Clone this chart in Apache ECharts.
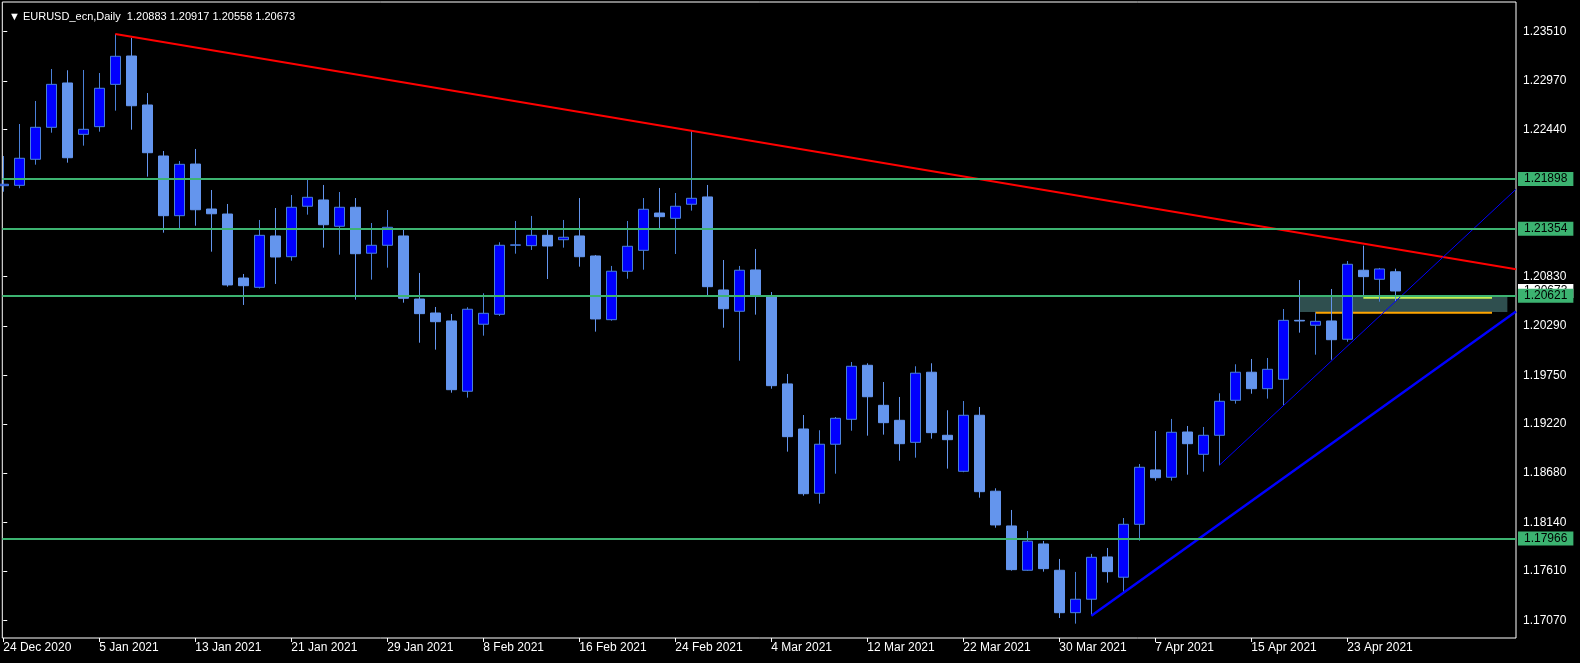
<!DOCTYPE html>
<html>
<head>
<meta charset="utf-8">
<script src="https://cdn.jsdelivr.net/npm/echarts@6/dist/echarts.min.js"></script>
<style>
html,body{margin:0;padding:0;background:#000;}
#chart{width:1580px;height:663px;}
</style>
</head>
<body>
<div id="chart"></div>
<script>
// ---- data ----
const symbol = 'EURUSD_ecn,Daily';
const opens  = [1.21825,1.21829,1.22114,1.22464,1.22949,1.22387,1.22471,1.22934,1.23244,1.22708,
  1.22150,1.21497,1.22062,1.21570,1.21515,1.20815,1.20713,1.21275,1.21048,1.21600,
  1.21669,1.21381,1.21589,1.21086,1.21173,1.21275,1.20585,1.20432,1.20345,1.19576,
  1.20309,1.20418,1.21173,1.21169,1.21282,1.21234,1.21275,1.21056,1.20359,1.20889,
  1.21118,1.21526,1.21468,1.21622,1.21702,1.20684,1.20451,1.20903,1.20622,1.19656,
  1.19163,1.18460,1.18996,1.19269,1.19860,1.19422,1.19258,1.19017,1.19784,1.19094,
  1.18700,1.19313,1.18482,1.18102,1.17617,1.17905,1.17617,1.17153,1.17300,1.17763,
  1.17541,1.18120,1.18715,1.18635,1.19130,1.18886,1.19094,1.19477,1.19784,1.19604,
  1.19707,1.20352,1.20298,1.20345,1.20145,1.20900,1.20801,1.20883];
const highs  = [1.22150,1.22500,1.22752,1.23102,1.23088,1.23091,1.23058,1.23485,1.23444,1.22839,
  1.22205,1.22095,1.22227,1.21778,1.21625,1.20859,1.21450,1.21581,1.21723,1.21887,
  1.21833,1.21756,1.21690,1.21417,1.21559,1.21348,1.20870,1.20498,1.20421,1.20495,
  1.20648,1.21206,1.21439,1.21494,1.21340,1.21450,1.21690,1.21067,1.20947,1.21439,
  1.21690,1.21800,1.21745,1.22427,1.21833,1.21012,1.20947,1.21133,1.20662,1.19765,
  1.19316,1.19149,1.19294,1.19896,1.19882,1.19677,1.19513,1.19849,1.19882,1.19368,
  1.19469,1.19404,1.18514,1.18277,1.18047,1.17938,1.17741,1.17599,1.17796,1.17861,
  1.18189,1.18780,1.19141,1.19273,1.19196,1.19185,1.19554,1.19871,1.19929,1.19940,
  1.20476,1.20793,1.20436,1.20695,1.21001,1.21169,1.20925,1.20917];
const lows   = [1.21759,1.21797,1.22055,1.22405,1.22077,1.22263,1.22416,1.22646,1.22438,1.21924,
  1.21311,1.21359,1.21387,1.21103,1.20720,1.20520,1.20700,1.20750,1.21004,1.21508,
  1.21147,1.21070,1.20578,1.20797,1.20928,1.20545,1.20107,1.20031,1.19560,1.19506,
  1.20184,1.20400,1.21081,1.21122,1.20804,1.21147,1.20939,1.20228,1.20348,1.20807,
  1.20906,1.21362,1.21078,1.21552,1.20629,1.20271,1.19910,1.20414,1.19604,1.18915,
  1.18433,1.18346,1.18674,1.19144,1.19090,1.19101,1.18816,1.18849,1.19057,1.18729,
  1.18690,1.18411,1.18083,1.17613,1.17610,1.17602,1.17095,1.17033,1.17125,1.17482,
  1.17372,1.17941,1.18598,1.18598,1.18663,1.18696,1.18766,1.19440,1.19549,1.19495,
  1.19422,1.20217,1.19976,1.19921,1.20118,1.20611,1.20556,1.20558];
const closes = [1.21841,1.22125,1.22464,1.22934,1.22131,1.22442,1.22891,1.23241,1.22700,1.22186,
  1.21497,1.22059,1.21562,1.21518,1.20739,1.20731,1.21282,1.21045,1.21589,1.21698,
  1.21398,1.21589,1.21081,1.21173,1.21370,1.20593,1.20425,1.20337,1.19593,1.20473,
  1.20429,1.21173,1.21178,1.21282,1.21165,1.21261,1.21048,1.20367,1.20889,1.21162,
  1.21567,1.21486,1.21600,1.21687,1.20720,1.20479,1.20900,1.20622,1.19637,1.19079,
  1.18455,1.18996,1.19280,1.19849,1.19516,1.19232,1.19002,1.19773,1.19123,1.19046,
  1.19313,1.18477,1.18113,1.17624,1.17935,1.17635,1.17153,1.17300,1.17759,1.17602,
  1.18120,1.18744,1.18630,1.19127,1.19002,1.19094,1.19466,1.19784,1.19604,1.19816,
  1.20352,1.20345,1.20341,1.20140,1.20965,1.20830,1.20914,1.20673];

const xTickIndex  = [0,6,12,18,24,30,36,42,48,54,60,66,72,78,84];
const xTickLabels = ['24 Dec 2020','5 Jan 2021','13 Jan 2021','21 Jan 2021','29 Jan 2021','8 Feb 2021',
  '16 Feb 2021','24 Feb 2021','4 Mar 2021','12 Mar 2021','22 Mar 2021','30 Mar 2021','7 Apr 2021',
  '15 Apr 2021','23 Apr 2021'];
const yTickValues = [1.17070,1.17610,1.18140,1.18680,1.19220,1.19750,1.20290,1.20830,1.22440,1.22970,1.23510];

const levels = [1.21898,1.21354,1.20621,1.17966];
const currentPrice = 1.20673;

const redTrend   = [[7,1.23485],[94.54,1.20910]];
const blueThick  = [[68,1.17120],[94.54,1.20448]];
const blueThin   = [[76,1.18766],[94.54,1.21786]];
const zoneBox    = [[81,1.20621],[94.0,1.20443]];
const orangeLine = [[82,1.20435],[93.04,1.20435]];
const limeLine   = [[85,1.20600],[93.04,1.20600]];

// ---- chart ----
const FONT = 'Liberation Sans';
const candles = opens.map((o,i)=>[i,o,closes[i],lows[i],highs[i]]);
const last = opens.length-1;
const header = '\u25BC ' + symbol + '  ' + opens[last].toFixed(5) + ' ' + highs[last].toFixed(5) + ' ' +
  lows[last].toFixed(5) + ' ' + closes[last].toFixed(5);
const labelMap = {};
xTickIndex.forEach((v,k)=>labelMap[v]=xTickLabels[k]);

const chart = echarts.init(document.getElementById('chart'), null, {renderer:'canvas'});
const levelLabel = (bg, fg) => ({
  show:true, position:'end', distance:2, backgroundColor:bg, color:fg, opacity:1,
  fontFamily:FONT, fontSize:12, padding:[1,6,0,6], lineHeight:13,
  formatter: p => Number(p.value).toFixed(5)
});

chart.setOption({
  animation:false,
  backgroundColor:'#000',
  title:{text:header, left:4, top:6, textStyle:{color:'#fff', fontSize:11, fontWeight:'normal', fontFamily:FONT}},
  grid:{left:2.3, right:64, top:2, bottom:25, show:true, borderColor:'#fff', borderWidth:1, backgroundColor:'#000'},
  xAxis:{
    type:'value', min:-0.06, max:94.54,
    splitLine:{show:false}, axisLine:{show:false},
    axisTick:{show:true, customValues:xTickIndex, length:4, lineStyle:{color:'#fff'}},
    axisLabel:{customValues:xTickIndex, formatter:v=>labelMap[v]||'', align:'left', margin:4,
      color:'#fff', fontSize:12, fontFamily:FONT}
  },
  yAxis:{
    type:'value', position:'right', min:1.16876, max:1.23835,
    splitLine:{show:false}, axisLine:{show:false},
    axisTick:{show:true, customValues:yTickValues, length:4, lineStyle:{color:'#fff'}},
    axisLabel:{customValues:yTickValues, formatter:v=>v.toFixed(5), margin:7,
      color:'#fff', fontSize:12, fontFamily:FONT}
  },
  series:[
    {type:'line', z:1, data:[], symbol:'none',
      markArea:{silent:true, itemStyle:{color:'#2f4f4f'},
        data:[[{xAxis:zoneBox[0][0], yAxis:zoneBox[0][1]},{xAxis:zoneBox[1][0], yAxis:zoneBox[1][1]}]]}},
    {type:'line', z:2, data:orangeLine, symbol:'none', lineStyle:{color:'#ffa500', width:2}},
    {type:'line', z:2, data:limeLine, symbol:'none', lineStyle:{color:'#c8f050', width:2}},
    {type:'candlestick', z:3, data:candles, encode:{x:0, y:[1,2,3,4]}, barWidth:10,
      itemStyle:{color:'#0000ff', color0:'#6495ed', borderColor:'#4a80d8', borderColor0:'#6495ed', borderWidth:1},
      markLine:{silent:true, symbol:['none','none'], animation:false, precision:5,
        data:[
          {yAxis:currentPrice, lineStyle:{color:'rgba(0,0,0,0)', width:0}, label:levelLabel('#ffffff','#000')},
          ...levels.map(v=>({yAxis:v, lineStyle:{color:'#3cb371', width:2, type:'solid'}, label:levelLabel('#3cb371','#000')}))
        ]}},
    {type:'line', z:4, data:redTrend, symbol:'none', lineStyle:{color:'#ff0000', width:2}},
    {type:'line', z:4, data:blueThick, symbol:'none', lineStyle:{color:'#0000ff', width:2.5}},
    {type:'line', z:4, data:blueThin, symbol:'none', lineStyle:{color:'#0000ff', width:1}}
  ]
});
</script>
</body>
</html>
